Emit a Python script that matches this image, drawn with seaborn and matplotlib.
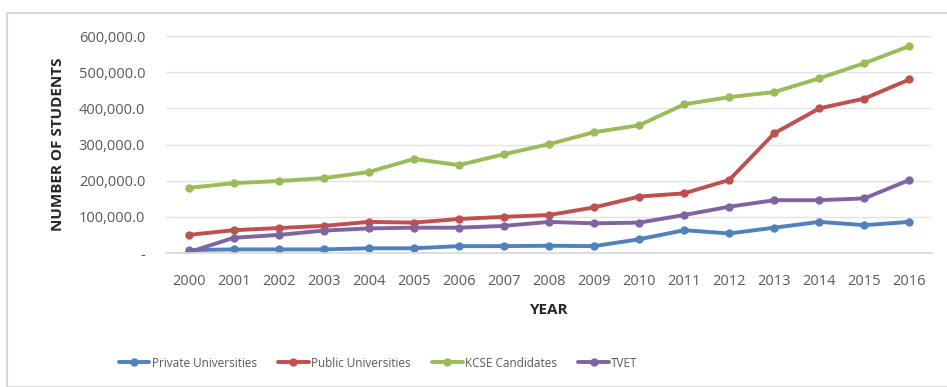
import numpy as np
import pandas as pd
import matplotlib.pyplot as plt
import seaborn as sns
from matplotlib.ticker import FuncFormatter
from matplotlib.patches import Rectangle

years = [str(y) for y in range(2000, 2017)]
private_univ = [8000, 10000, 10000, 10000, 13000, 13000, 19000, 19000, 20000, 19000,
                38000, 63000, 54000, 70000, 86000, 77000, 86000]
public_univ = [50000, 63000, 69000, 75000, 86000, 84000, 94000, 100000, 105000, 126000,
               156000, 165000, 202000, 331000, 400000, 427000, 480000]
kcse = [180000, 193000, 199000, 207000, 224000, 260000, 243000, 273000, 301000, 334000,
        353000, 411000, 431000, 445000, 483000, 525000, 572000]
tvet = [2000, 42000, 50000, 62000, 68000, 70000, 70000, 75000, 86000, 82000,
        84000, 105000, 128000, 146000, 146000, 151000, 202000]

series_names = ['Private Universities', 'Public Universities', 'KCSE Candidates', 'TVET']
colors = ['#4F81BD', '#C0504D', '#9BBB59', '#8064A2']

df = pd.DataFrame({
    'idx': list(range(len(years))) * 4,
    'value': private_univ + public_univ + kcse + tvet,
    'series': sum([[n] * len(years) for n in series_names], []),
})

sns.set_theme(style="white")
plt.rcParams['font.family'] = ['Open Sans', 'DejaVu Sans']

fig = plt.figure(figsize=(9.47, 3.87), dpi=100)
ax = fig.add_axes([166 / 947, 1 - 253 / 387, (932 - 166) / 947, (253 - 36) / 387])

sns.lineplot(data=df, x='idx', y='value', hue='series', hue_order=series_names,
             palette=colors, marker='o', markersize=6, linewidth=2.8,
             markeredgewidth=0, ax=ax)

ax.set_xlim(-0.5, len(years) - 0.5)
ax.set_ylim(0, 600000)
ax.set_yticks(np.arange(0, 600001, 100000))
ax.yaxis.set_major_formatter(FuncFormatter(lambda v, p: '-' if v == 0 else f'{v:,.1f}'))
ax.set_xticks(range(len(years)))
ax.set_xticklabels(years)
ax.tick_params(axis='both', labelsize=10.5, colors='#595959', length=0)
ax.tick_params(axis='x', pad=15)
ax.tick_params(axis='y', pad=15)
ax.grid(axis='y', color='#E3E3E3', linewidth=1)
for s in ['top', 'right', 'left']:
    ax.spines[s].set_visible(False)
ax.spines['bottom'].set_color('#D9D9D9')

ax.set_xlabel('YEAR', fontsize=11, fontweight='bold', color='#262626', labelpad=10)
ax.set_ylabel('NUMBER OF STUDENTS', fontsize=11, fontweight='bold', color='#262626', labelpad=10)

handles, labels = ax.get_legend_handles_labels()
ax.legend(handles, labels, loc='center left', bbox_to_anchor=(-0.068, -0.507), ncol=4,
          frameon=False, fontsize=8.5, labelcolor='#595959', columnspacing=1.8,
          handlelength=2.6, handletextpad=0.2, borderaxespad=0)

fig.patches.append(Rectangle((7 / 947, 0), 1, 1 - 13 / 387, transform=fig.transFigure,
                             fill=False, edgecolor='#D9D9D9', linewidth=1.5))

fig.savefig('out.png', dpi=100)
